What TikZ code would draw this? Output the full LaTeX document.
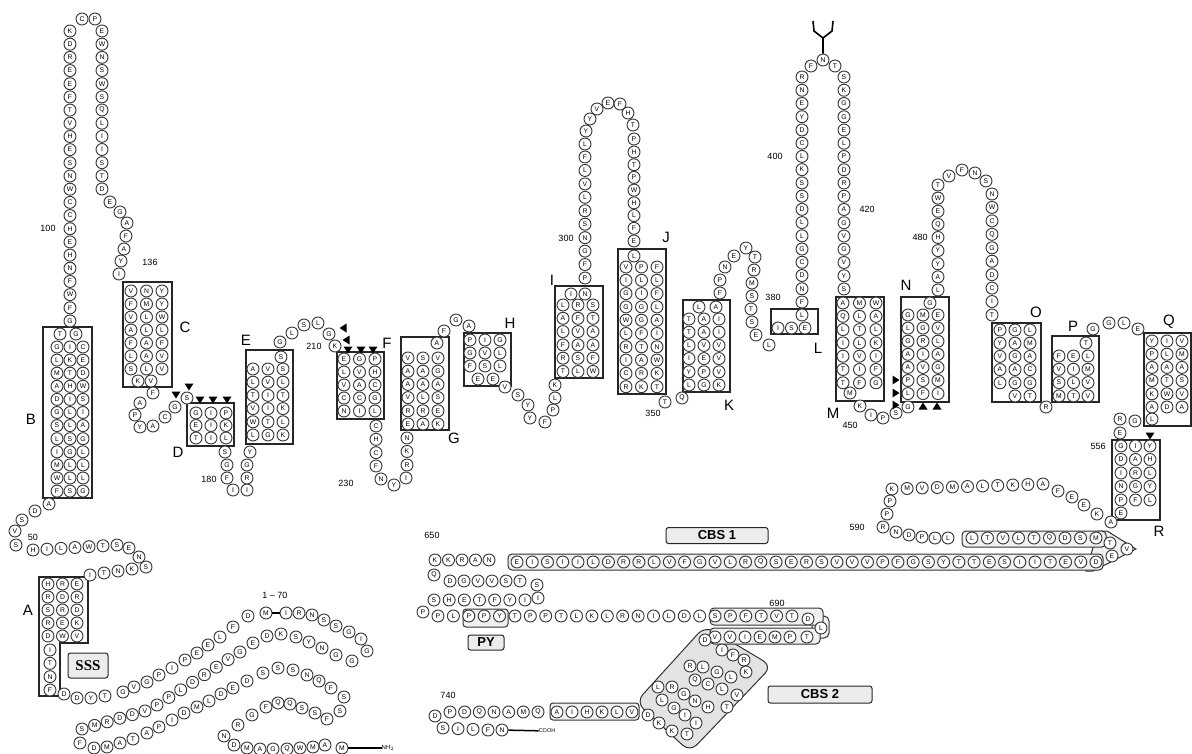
\documentclass[tikz,border=0pt]{standalone}
\usepackage{fontspec}
\setmainfont{Liberation Sans}
\setsansfont{Liberation Sans}
\newfontfamily\serifb{Liberation Serif}
\usetikzlibrary{shapes.geometric}
\makeatletter
\newcount\rc
\newcount\segn
\newcount\segi
\newcommand\seg[5]{%
  \segn=0
  \@tfor\ch:=#5\do{\advance\segn by 1 }%
  \segi=0
  \@tfor\ch:=#5\do{%
    \pgfmathsetmacro\segt{\the\segn>1 ? \the\segi/(\the\segn-1) : 0}%
    \pgfmathsetmacro\segx{#1+(#3-#1)*\segt}%
    \pgfmathsetmacro\segy{#2+(#4-#2)*\segt}%
    \global\advance\rc by 1
    \node[res] (r\the\rc) at (\segx,\segy) {\ch};%
    \advance\segi by 1 }%
}
\makeatother
\newcommand\pts[1]{\foreach \px/\py/\pl in {#1}{\global\advance\rc by 1 \node[res] (r\the\rc) at (\px,\py) {\pl};}}
\newcommand\boxrows[5]{%
  \foreach \rr [count=\kk from 0] in {#5}{%
    \pgfmathsetmacro\yy{#3+#4*\kk}%
    \edef\tmp{\noexpand\seg{#1}{\yy}{#2}{\yy}{\rr}}\tmp}}
\newcommand\tdown[2]{\fill[black] (#1,#2) ++(-4.5,-3.5) -- ++(9,0) -- ++(-4.5,7) -- cycle;}
\newcommand\tup[2]{\fill[black] (#1,#2) ++(-4.5,3.5) -- ++(9,0) -- ++(-4.5,-7) -- cycle;}
\newcommand\tright[2]{\fill[black] (#1,#2) ++(-3.5,-4.5) -- ++(0,9) -- ++(7,-4.5) -- cycle;}
\newcommand\tleft[2]{\fill[black] (#1,#2) ++(3.5,-4.5) -- ++(0,9) -- ++(-7,-4.5) -- cycle;}
\begin{document}
\begin{tikzpicture}[x=1pt,y=-1pt,
  res/.style={circle,draw=black!78,line width=0.95pt,fill=white,minimum size=12pt,inner sep=0pt,font=\fontsize{6.8}{7}\selectfont\sffamily},
  box/.style={draw=black!85,line width=1.1pt},
  gbox/.style={draw=black!80,line width=1pt,fill=gray!12},
  lbox/.style={draw=black!85,line width=1pt,fill=gray!15,rounded corners=2.5pt,inner sep=0pt,font=\bfseries\fontsize{13}{13}\selectfont},
  lab/.style={font=\fontsize{15}{15}\selectfont,inner sep=0pt},
  num/.style={font=\fontsize{9}{9}\selectfont,inner sep=0pt}]
\useasboundingbox (0,0) rectangle (1192,753);
\fill[white] (0,0) rectangle (1192,753);
% ---------------- shaded regions
\draw[draw=black!80,line width=1pt,fill=gray!22,rounded corners=10pt] (705,626) -- (772,666) -- (690,752) -- (636,702) -- cycle;
\draw[gbox] (1098,531) -- (1107,531) -- (1136,549) -- (1093,571) -- (1086,571) -- cycle;
\draw[gbox,rounded corners=4pt] (508,554) rectangle (1103,570);
\draw[gbox,rounded corners=4pt] (962,531) rectangle (1106,547);
\draw[gbox,rounded corners=3pt] (463,609) rectangle (508,627);
\draw[gbox,rounded corners=5pt] (812,616) rectangle (829,638);
\draw[gbox,rounded corners=4pt] (710,608) rectangle (823,625);
\draw[gbox,rounded corners=4pt] (710,628) rectangle (820,644);
\draw[gbox,rounded corners=3pt] (550,703) rectangle (639,720);
% ---------------- membrane boxes
\draw[box] (43,327) rectangle (92,498);
\draw[box] (39,577) -- (88,577) -- (88,643) -- (60,643) -- (60,696) -- (39,696) -- cycle;
\draw[box] (123,282) rectangle (172,387);
\draw[box] (187,403) rectangle (234,446);
\draw[box] (246,350) rectangle (293,444);
\draw[box] (337,352) rectangle (384,419);
\draw[box] (401,337) rectangle (449,430);
\draw[box] (464,333) rectangle (511,386);
\draw[box] (555,286) rectangle (603,378);
\draw[box] (618,249) rectangle (666,394);
\draw[box] (683,300) rectangle (730,392);
\draw[box] (771,309) rectangle (818,334);
\draw[box] (836,297) rectangle (884,401);
\draw[box] (901,297) rectangle (949,402);
\draw[box] (992,323) rectangle (1041,402);
\draw[box] (1052,336) rectangle (1099,402);
\draw[box] (1144,333) rectangle (1191,426);
\draw[box] (1112,440) rectangle (1160,520);
% ---------------- residues: N-terminal snake
\node[res] (nhM) at (342,748) {M};
\node[inner sep=0pt,font=\fontsize{6}{6}\selectfont] (nh2) at (388,748) {NH$_2$};
\draw[line width=1.5pt] (nhM) -- (nh2);
\pts{325/745/A,313/747/M,300/748/W,287/749/Q,273/749/G,260/749/A,247/748/M,234/745/D,224/736/N,238/725/R,252/715/G,266/707/F,278/703/Q,290/704/Q,302/708/S,315/713/S,327/719/F,340/711/S,344/697/S,331/688/F,319/681/Q,307/675/N,293/670/S,278/668/S,263/673/S,247/681/D,233/688/E,221/694/D,209/701/L,197/707/M,184/713/D,172/720/I,159/727/P,147/733/A,133/739/T,120/743/A,107/747/M,94/748/D,80/743/F}
\seg{82}{729}{145}{711}{SMRDDV}
\seg{157}{705}{240}{652}{PPLDREVG}
\pts{253/643/E,267/636/D,281/634/K,296/637/S,309/642/Y,322/648/N,336/655/G,352/661/G}
\pts{367/651/G,361/639/I,349/632/G,336/626/S,324/620/S,312/615/N,299/613/R}
\node[res] (iI) at (286,613) {I};
\node[res] (mM) at (266,613) {M};
\draw[line width=1.5pt] (mM) -- (iI);
\pts{248/616/D,233/627/F,220/637/L,208/645/E,197/653/E,185/660/P,172/668/I,159/675/P,147/682/G,134/687/V,123/692/G,105/696/T,91/698/Y,77/698/D,64/694/D}
% box A
\seg{50}{650}{50}{690}{ITNF}
\boxrows{48}{77}{584}{13}{HRE,RDR,SRD,REK,DWV}
\seg{90}{575}{146}{567}{ITNKS}
\pts{139/557/N,129/548/E}
\seg{117}{545}{33}{550}{STWALIH}
\pts{16/545/S,15/531/V,22/520/S,35/511/D,49/504/A}
% box B
\boxrows{57}{83}{347}{13.1}{GIC,LKE,MTD,AHW,DIS,GLI,SLA,LSG,IGL,MLL,WLL,FSG}
\pts{60/334/T,76/334/G}
% top-left loop
\seg{70}{31}{70}{321}{KDREEFTVHESNWCCHEHNFWFG}
\pts{82/19/C,95/19/P}
\seg{102}{31}{102}{189}{EWNSWSQLIISTD}
\pts{110/202/E,120/212/G,127/223/A,126/236/F,124/249/A,121/261/Y,119/274/I}
% box C
\boxrows{131}{162}{291}{13}{VNY,FMY,VLW,ALL,FAF,LAV,SLV}
\seg{138}{381}{151}{381}{KV}
\pts{153/393/F,140/403/A,135/415/P,140/427/Y,153/426/A,165/417/C,175/407/G,187/398/S}
\tdown{176}{395}\tdown{189}{387}
% box D
\tdown{200}{400}\tdown{213}{400}\tdown{227}{400}
\boxrows{196}{226}{413}{12.5}{GIP,EIK,TIL}
\pts{225/452/S,227/465/G,227/478/F,233/490/I,247/490/I,247/478/R,247/465/G,250/452/Y}
% box E
\pts{281/357/S}
\boxrows{253}{283}{369}{13.2}{AVS,LVL,TIT,VIK,WTL,LGK}
\pts{280/342/G,292/333/L,304/325/S,318/323/L,329/334/G,335/346/K}
\tleft{343}{328}\tleft{346}{340}
% box F
\tdown{348}{350}\tdown{361}{350}\tdown{373}{350}
\boxrows{344}{375}{359}{13}{EGP,LVH,VAC,CCG,NIL}
\seg{376}{426}{376}{466}{CHCF}
\pts{381/479/N,394/485/Y,406/478/I}
% box G
\seg{407}{465}{407}{438}{RKN}
\boxrows{408}{438}{358}{13.2}{VSV,AAG,AAA,VLS,RRE,EAK}
\pts{437/343/A,444/331/F,456/320/G,469/326/A}
% box H
\boxrows{470}{500}{340}{13}{PIG,GVL,FSL}
\seg{478}{379}{493}{379}{EE}
\pts{505/387/V,518/395/S,528/405/Y,530/418/Y,545/422/F,553/410/P,555/398/L,555/385/K}
% box I
\boxrows{563}{593}{305}{13.3}{LRS,AFT,LVA,FAA,RSF,TLW}
\seg{571}{294}{585}{294}{IN}
\seg{585}{278}{585}{157}{PFGNSRLVLF}
\pts{585/144/L,586/131/Y,590/119/Y,597/109/V,608/103/E,620/104/F,628/113/H,633/125/T,634/139/P}
% box J
\seg{634}{152}{634}{241}{HTPWHLFE}
\pts{634/256/L}
\boxrows{626}{657}{267}{13.3}{VPF,ILL,GIF,GGL,WGA,LFI,RTN,IAW,CRK,RKT}
\pts{665/402/T,682/398/Q}
% box K
\boxrows{689}{719}{319}{13.2}{TAI,TAI,LVV,IEV,YPV,LGK}
\seg{699}{307}{716}{307}{LA}
\pts{720/293/F,720/280/P,725/267/N,734/256/E,746/248/Y,755/257/T,754/270/R,752/283/M,752/296/S,751/309/T,752/322/S,756/335/E,769/345/L}
% box L and loop
\seg{778}{328}{805}{328}{ISE}
\pts{802/315/L}
\seg{802}{302}{802}{77}{FNDCGLLDSSKLCDYENR}
\pts{811/66/F}
\node[res] (glyN) at (823,60) {N};
\pts{835/66/T}
\seg{844}{77}{844}{289}{SKGGELPDRPAGVGVYS}
\draw[line width=1.6pt] (glyN.north) -- (823,38) (813,21) -- (814,31) -- (823,38) -- (832,31) -- (833,21);
% box M
\boxrows{843}{876}{303}{13.3}{AMW,QLA,LTL,ILK,IVI,TIF,TFG}
\pts{850/393/M,860/406/K,871/415/I,883/418/P,896/413/S,908/407/G}
\tright{896}{380}\tright{896}{393}\tright{896}{405}
% box N
\tup{923}{406}\tup{937}{406}
\boxrows{908}{938}{315}{13.1}{GME,LGV,GRL,AIA,AVG,PSM,LFI}
\pts{930/303/G}
\seg{938}{290}{938}{185}{LAYYHQEWT}
\pts{949/176/V,962/170/F,975/173/N,986/181/S}
\seg{992}{194}{992}{315}{NWCQGADCIT}
% box O
\boxrows{1000}{1030}{330}{13.2}{PGL,YAM,VGA,AAC,LGG}
\seg{1015}{396}{1030}{396}{VT}
\pts{1046/407/R}
% box P
\boxrows{1059}{1088}{356}{13.3}{FEL,VIM,SLV,MTV}
\pts{1086/343/T,1093/329/G,1109/323/G,1124/323/L,1138/329/E}
% box Q
\boxrows{1152}{1182}{341}{13.2}{YIV,PLM,AAA,MTS,KWV,ADA}
\pts{1152/419/L,1135/421/G,1120/419/R,1120/433/E}
\tdown{1150}{436}
% box R
\boxrows{1121}{1150}{446}{13.5}{GIY,DAH,IRL,NGY,PFL}
\pts{1121/513/E,1111/522/A,1097/514/K,1084/505/E,1072/497/E,1058/491/F}
\seg{1043}{484}{892}{489}{AHKTLAMDVMK}
\pts{890/501/P,887/514/P,883/527/R,896/532/N,909/535/D,922/537/P,935/538/L,948/538/L}
% CBS 1
\seg{972}{538}{1096}{538}{LTVLTQDSM}
\pts{1110/543/T,1127/549/V,1112/556/E}
\seg{517}{562}{1096}{562}{EISIILDRRLVFGVLRQSERSVVVPFGSYTTESIITEVD}
\seg{435}{560}{489}{560}{KKRAN}
\pts{434/575/Q}
\seg{450}{581}{520}{581}{DGVVST}
\pts{537/585/S,538/598/I}
\seg{525}{600}{434}{600}{IYFTEHS}
\pts{423/612/P}
\seg{438}{616}{792}{616}{PLPPYTPPTLKLRNILDLSPFTVT}
\pts{808/619/D,821/628/L,807/637/T}
\seg{790}{637}{715}{637}{PMEIVV}
% CBS 2
\pts{705/640/D,722/650/I,733/655/F,744/660/R,690/666/R,703/667/L,717/672/G,731/677/L,746/672/K,695/680/Q,708/684/C,722/689/L,737/695/V,658/687/L,672/687/R,684/694/G,695/701/N,708/707/H,727/707/T,662/700/L,674/708/G,685/715/I,696/723/I,648/715/D,659/723/K,672/731/K,687/734/T}
\seg{632}{712}{557}{712}{VLKHIA}
\seg{538}{712}{450}{712}{QMANQDP}
\pts{435/716/D}
\seg{443}{728}{488}{730}{SILF}
\node[res] (cN) at (502,730) {N};
\node[inner sep=0pt,font=\fontsize{5.5}{6}\selectfont] (cooh) at (547,731) {COOH};
\draw[line width=1.5pt] (cN) -- (cooh);
% ---------------- labels
\node[lab] (lA) at (28,610) {A};
\node[lab] (lB) at (31,419) {B};
\node[lab] (lC) at (185,327) {C};
\node[lab] (lD) at (178,452) {D};
\node[lab] (lE) at (246,340) {E};
\node[lab] (lF) at (387,343) {F};
\node[lab] (lG) at (454,438) {G};
\node[lab] (lH) at (510,323) {H};
\node[lab] (lI) at (552,280) {I};
\node[lab] (lJ) at (666,237) {J};
\node[lab] (lK) at (729,405) {K};
\node[lab] (lL) at (818,348) {L};
\node[lab] (lM) at (833,413) {M};
\node[lab] (lN) at (906,285) {N};
\node[lab] (lO) at (1036,312) {O};
\node[lab] (lP) at (1073,326) {P};
\node[lab] (lQ) at (1169,322) {Q};
\node[lab] (lR) at (1159,531) {R};
\node[num] (n100) at (48,228) {100};
\node[num] (n136) at (150,262) {136};
\node[num] (n50) at (33,537) {50};
\node[num] (n180) at (209,479) {180};
\node[num] (n210) at (314,346) {210};
\node[num] (n230) at (346,483) {230};
\node[num] (n300) at (566,238) {300};
\node[num] (n350) at (653,413) {350};
\node[num] (n380) at (773,297) {380};
\node[num] (n400) at (775,156) {400};
\node[num] (n420) at (867,209) {420};
\node[num] (n450) at (850,425) {450};
\node[num] (n480) at (920,237) {480};
\node[num] (n556) at (1098,446) {556};
\node[num] (n590) at (857,527) {590};
\node[num] (n650) at (432,535) {650};
\node[num] (n690) at (777,603) {690};
\node[num] (n740) at (448,695) {740};
\node[num] (n170) at (275,595) {1 -- 70};
\node[lbox,minimum width=40pt,minimum height=25pt,font=\serifb\bfseries\fontsize{15}{15}\selectfont] (sss) at (88,665.5) {SSS};
\node[lbox,minimum width=102pt,minimum height=16pt] (cbs1) at (717,535.5) {CBS 1};
\node[lbox,minimum width=104pt,minimum height=17pt] (cbs2) at (820,694.5) {CBS 2};
\node[lbox,minimum width=36pt,minimum height=15pt] (py) at (486,642.5) {PY};
\end{tikzpicture}
\end{document}
